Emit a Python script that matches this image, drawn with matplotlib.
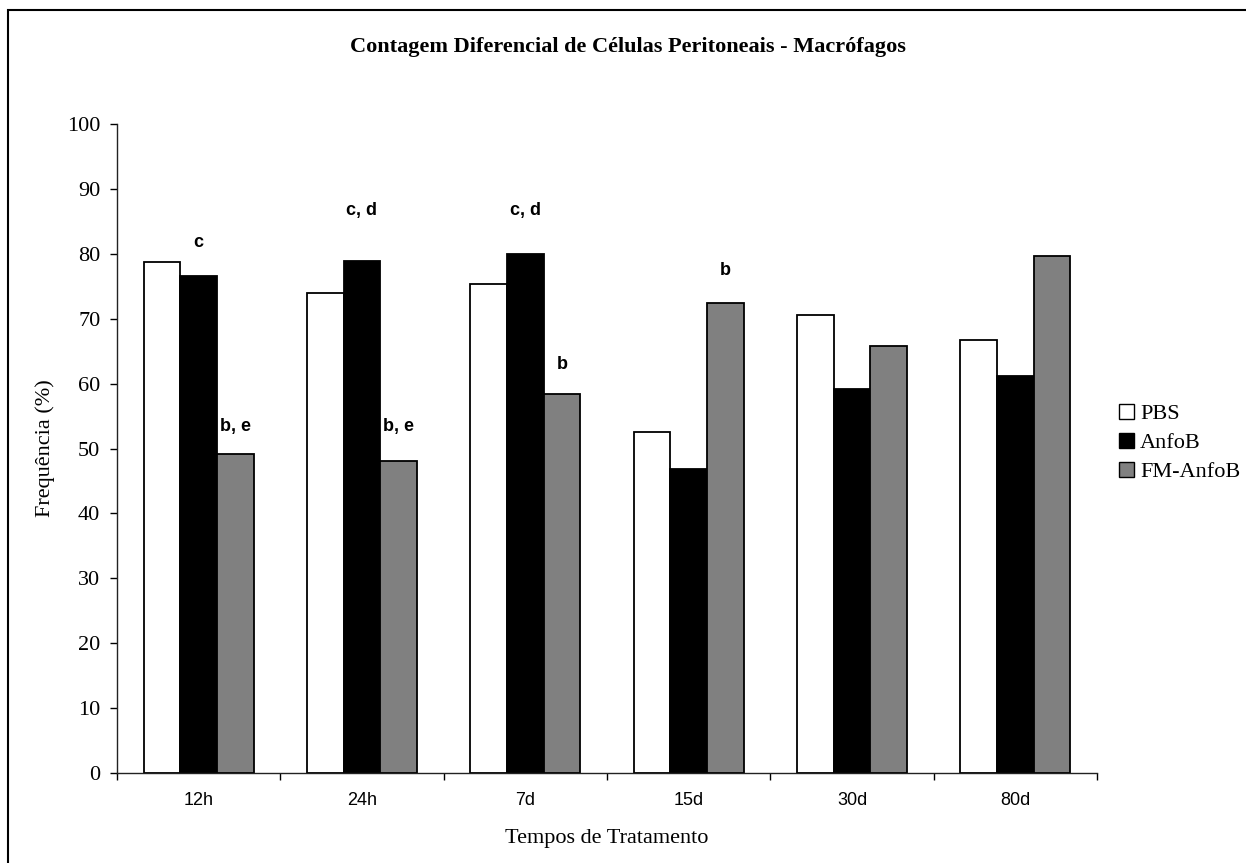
import matplotlib
matplotlib.use("Agg")
import matplotlib.pyplot as plt
from matplotlib.patches import Rectangle, Patch
import numpy as np

categories = ["12h", "24h", "7d", "15d", "30d", "80d"]
series_names = ["PBS", "AnfoB", "FM-AnfoB"]
pbs = [78.7, 73.9, 75.3, 52.5, 70.5, 66.7]
anfob = [76.6, 78.9, 80.0, 46.9, 59.1, 61.1]
fm_anfob = [49.2, 48.1, 58.4, 72.4, 65.8, 79.6]
yticks = [0, 10, 20, 30, 40, 50, 60, 70, 80, 90, 100]

# annotations: (category index, series index, text, y)
annot_cat = [0, 0, 1, 1, 2, 2, 3]
annot_ser = [1, 2, 1, 2, 1, 2, 2]
annot_txt = ["c", "b, e", "c, d", "b, e", "c, d", "b", "b"]
annot_y = [81.7, 53.4, 86.6, 53.4, 86.6, 63.0, 77.5]

title = "Contagem Diferencial de Células Peritoneais - Macrófagos"
xlabel = "Tempos de Tratamento"
ylabel = "Frequência (%)"

serif = ["Liberation Serif", "DejaVu Serif"]
sans = ["Liberation Sans", "DejaVu Sans"]

W, H = 1246, 863
fig = plt.figure(figsize=(W / 100, H / 100), dpi=100)
fig.patch.set_facecolor("white")

ax = fig.add_axes([117 / W, 1 - 773 / H, (1097 - 117) / W, (773 - 124) / H])

x = np.arange(len(categories))
bw = 0.224
colors = ["white", "black", "#808080"]
data = [pbs, anfob, fm_anfob]
for i, (vals, c, name) in enumerate(zip(data, colors, series_names)):
    ax.bar(x + (i - 1) * bw, vals, width=bw, color=c, edgecolor="black",
           linewidth=1.3, label=name, zorder=2)

for ci, si, t, yy in zip(annot_cat, annot_ser, annot_txt, annot_y):
    ax.text(x[ci] + (si - 1) * bw, yy, t, ha="center", va="center",
            fontsize=13, fontweight="bold", family=sans)

ax.set_xlim(-0.5, len(categories) - 0.5)
ax.set_ylim(0, 100)
ax.set_yticks(yticks)
ax.set_yticklabels([str(v) for v in yticks], family=serif, fontsize=16)
ax.set_xticks(x)
ax.set_xticklabels(categories, family=sans, fontsize=13)
ax.set_xticks(np.arange(-0.5, len(categories), 1.0), minor=True)
ax.tick_params(axis="x", which="major", length=0, pad=14)
ax.tick_params(axis="x", which="minor", length=5, width=1, direction="out")
ax.tick_params(axis="y", which="major", length=5, width=1, direction="out", pad=7)

for s in ["top", "right"]:
    ax.spines[s].set_visible(False)
for s in ["left", "bottom"]:
    ax.spines[s].set_linewidth(1)
    ax.spines[s].set_color("#222222")

fig.text(628 / W, 1 - 47 / H, title, ha="center", va="center",
         fontsize=16, fontweight="bold", family=serif)
fig.text(607 / W, 1 - 838 / H, xlabel, ha="center", va="center",
         fontsize=16, family=serif)
fig.text(45 / W, 1 - 448.5 / H, ylabel, ha="center", va="center",
         rotation=90, fontsize=16, family=serif)

handles = [Patch(facecolor=c, edgecolor="black", linewidth=1) for c in colors]
leg = ax.legend(handles, series_names, loc="center left",
                bbox_to_anchor=(1110 / W, 1 - 443 / H), bbox_transform=fig.transFigure,
                frameon=False, handlelength=0.7, handleheight=0.7,
                handletextpad=0.25, labelspacing=0.38, borderaxespad=0,
                prop={"family": serif, "size": 16})

fig.add_artist(Rectangle((8 / W, -0.2), 1.5, 1 - 10 / H + 0.2,
                         transform=fig.transFigure, fill=False,
                         edgecolor="black", linewidth=1.5))

fig.savefig("out.png", dpi=100, facecolor="white")
